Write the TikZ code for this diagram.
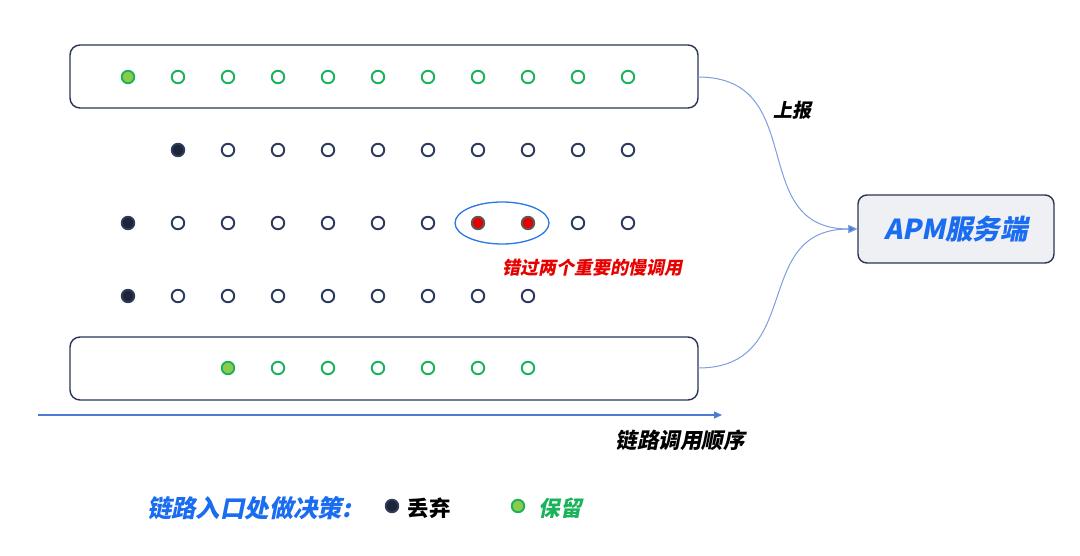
\documentclass[tikz,border=0pt]{standalone}
\usepackage{fontspec}
\usepackage{tikz}
\usetikzlibrary{shapes,arrows.meta}
\newfontfamily\cjk{Noto Sans CJK SC}
\newfontfamily\cjkit{Noto Sans CJK SC}[FakeSlant=0.2]
\definecolor{boxnavy}{HTML}{2A3553}
\definecolor{dropfill}{HTML}{1E2536}
\definecolor{dropline}{HTML}{2B3A5E}
\definecolor{keepline}{HTML}{1BB35A}
\definecolor{keepfill}{HTML}{8CCB4C}
\definecolor{slowred}{HTML}{E60000}
\definecolor{markblue}{HTML}{2A76E8}
\definecolor{titleblue}{HTML}{1A6CF0}
\definecolor{flowblue}{HTML}{7C9EE0}
\definecolor{axisblue}{HTML}{4C7BD2}
\definecolor{serverfill}{HTML}{EFF0F4}
\newcommand{\keepnode}[2] {\node at (#1) (#2) [circle, draw=keepline, line width=1.9pt, fill=white, minimum size=12.5pt, inner sep=0pt] {};}
\newcommand{\keepfirst}[2] {\node at (#1) (#2) [circle, draw=keepline, line width=1.9pt, fill=keepfill, minimum size=12.5pt, inner sep=0pt] {};}
\newcommand{\dropnode}[2] {\node at (#1) (#2) [circle, draw=dropline, line width=1.9pt, fill=white, minimum size=12.5pt, inner sep=0pt] {};}
\newcommand{\dropfirst}[2] {\node at (#1) (#2) [circle, draw=dropline, line width=1.9pt, fill=dropfill, minimum size=12.5pt, inner sep=0pt] {};}
\newcommand{\slownode}[2] {\node at (#1) (#2) [circle, draw=black!65, line width=1.9pt, fill=slowred, minimum size=12.5pt, inner sep=0pt] {};}
\newcommand{\tracebox}[2] {\node at (#1) (#2) [draw=boxnavy, line width=1.4pt, rounded corners=10pt, minimum width=628pt, minimum height=63pt] {};}
\newcommand{\reportcurve}[3] {\draw [flowblue, line width=1pt, -{Triangle[length=9pt, width=8pt, fill=axisblue]}] (#1) to[out=0, in=180, looseness=1.3] (#2);}

\begin{document}
\begin{tikzpicture}[x=1pt, y=-1pt]
\useasboundingbox (0,0) rectangle (1080,556);

\tracebox {384,76.5} {top};
\tracebox {384,368.5} {bottom};

\keepfirst {128,77} {a1};
\keepnode {178,77} {a2};
\keepnode {228,77} {a3};
\keepnode {278,77} {a4};
\keepnode {328,77} {a5};
\keepnode {378,77} {a6};
\keepnode {428,77} {a7};
\keepnode {478,77} {a8};
\keepnode {528,77} {a9};
\keepnode {578,77} {a10};
\keepnode {628,77} {a11};

\dropfirst {178,150} {b2};
\dropnode {228,150} {b3};
\dropnode {278,150} {b4};
\dropnode {328,150} {b5};
\dropnode {378,150} {b6};
\dropnode {428,150} {b7};
\dropnode {478,150} {b8};
\dropnode {528,150} {b9};
\dropnode {578,150} {b10};
\dropnode {628,150} {b11};

\dropfirst {128,223} {c1};
\dropnode {178,223} {c2};
\dropnode {228,223} {c3};
\dropnode {278,223} {c4};
\dropnode {328,223} {c5};
\dropnode {378,223} {c6};
\dropnode {428,223} {c7};
\slownode {478,223} {c8};
\slownode {528,223} {c9};
\dropnode {578,223} {c10};
\dropnode {628,223} {c11};

\dropfirst {128,296} {d1};
\dropnode {178,296} {d2};
\dropnode {228,296} {d3};
\dropnode {278,296} {d4};
\dropnode {328,296} {d5};
\dropnode {378,296} {d6};
\dropnode {428,296} {d7};
\dropnode {478,296} {d8};
\dropnode {528,296} {d9};

\keepfirst {228,368} {e3};
\keepnode {278,368} {e4};
\keepnode {328,368} {e5};
\keepnode {378,368} {e6};
\keepnode {428,368} {e7};
\keepnode {478,368} {e8};
\keepnode {528,368} {e9};

% the two missed slow calls
\node at (502,223) (missed) [ellipse, draw=markblue, line width=1.3pt, minimum width=94pt, minimum height=42pt] {};
\node at (592,268) (missedtext) [text=slowred, font=\cjkit\bfseries\fontsize{18}{21}\selectfont] {错过两个重要的慢调用};

% server side
\node at (956,229) (apm) [draw=boxnavy, line width=1.4pt, fill=serverfill, rounded corners=9pt, minimum width=196pt, minimum height=68pt, text=titleblue, font=\cjkit\bfseries\fontsize{27.5}{32}\selectfont] {APM服务端};
\coordinate (topout) at (698,77);
\coordinate (bottomout) at (698,368);
\reportcurve {topout} {apm.west} {};
\reportcurve {bottomout} {apm.west} {};
\node at (792,110) (report) [font=\cjkit\bfseries\fontsize{19}{22}\selectfont] {上报};

% call order axis
\coordinate (axisstart) at (38,415);
\coordinate (axisend) at (722,415);
\draw [axisblue, line width=1.2pt, -{Triangle[length=8pt, width=7pt]}] (axisstart) -- (axisend);
\node at (680,440) (order) [font=\cjkit\bfseries\fontsize{21.5}{25}\selectfont] {链路调用顺序};

% legend
\node at (249,508) (legtitle) [text=titleblue, font=\cjkit\bfseries\fontsize{24.4}{28}\selectfont] {链路入口处做决策:};
\dropfirst {392,506} {legdrop};
\node at (429,508) (droptext) [font=\cjk\bfseries\fontsize{21.5}{25}\selectfont] {丢弃};
\keepfirst {518,506} {legkeep};
\node at (560,508) (keeptext) [text=keepline, font=\cjkit\bfseries\fontsize{21.5}{25}\selectfont] {保留};

\end{tikzpicture}
\end{document}
